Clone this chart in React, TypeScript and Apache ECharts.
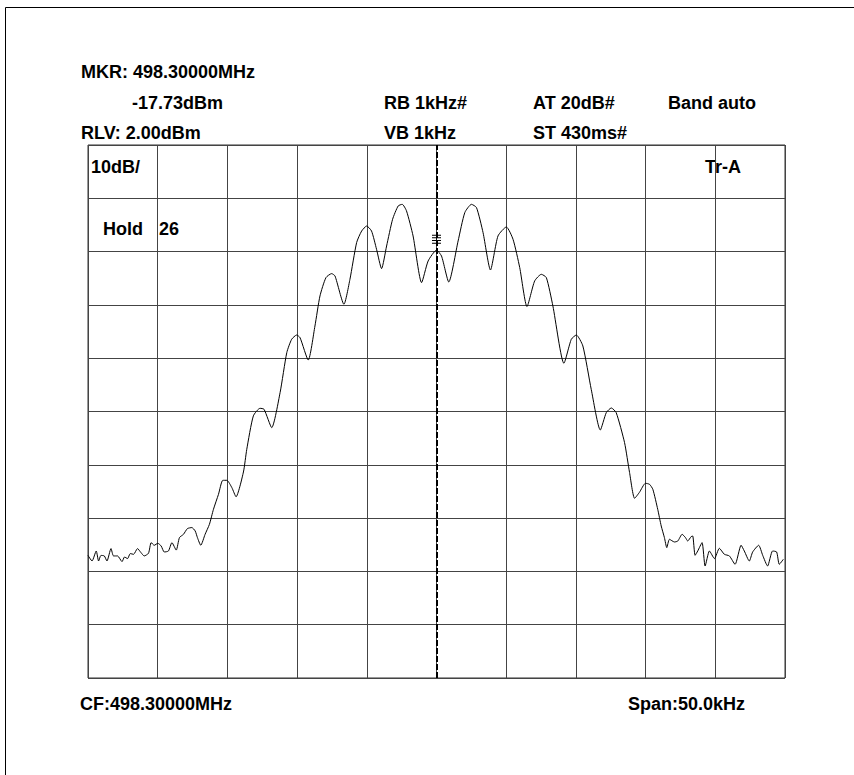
import React, { useEffect, useRef } from "react";
import * as echarts from "echarts";

// Analyzer settings
const CENTER_MHZ = "498.30000";
const SPAN_KHZ = 50;
const RLV_DBM = 2.0;
const DB_PER_DIV = 10;
const MARKER_KHZ = 0;
const MARKER_DBM = -17.73;

// Frequency offset from centre (kHz)
const FREQ_KHZ = [
  -25.0, -24.71, -24.41, -24.24, -24.07, -23.83, -23.64, -23.35, -23.17, -22.88,
  -22.56, -22.38, -22.16, -21.97, -21.73, -21.45, -21.2, -20.97, -20.66, -20.47,
  -20.25, -19.99, -19.75, -19.53, -19.23, -18.98, -18.67, -18.44, -18.15, -17.87,
  -17.55, -17.31, -17.15, -16.91, -16.6, -16.29, -16.0, -15.64, -15.33, -15.04,
  -14.68, -14.38, -13.85, -13.61, -13.14, -12.66, -12.37, -11.82, -11.22, -10.74,
  -10.39, -10.03, -9.79, -9.2, -8.72, -8.36, -7.93, -7.52, -7.28, -6.64,
  -6.21, -5.73, -5.37, -5.01, -4.66, -4.3, -3.94, -3.58, -3.15, -2.75,
  -2.46, -2.15, -1.68, -1.07, -0.6, 0.0, 0.36, 0.88, 1.55, 2.03,
  2.51, 2.87, 3.34, 3.87, 4.41, 5.01, 5.49, 5.97, 6.49, 7.04,
  7.52, 7.88, 8.35, 9.14, 9.67, 10.03, 10.5, 11.1, 11.75, 12.18,
  12.54, 12.89, 13.49, 13.85, 14.21, 14.56, 14.99, 15.28, 15.52, 15.87,
  16.12, 16.35, 16.52, 16.71, 17.07, 17.31, 17.62, 17.86, 18.02, 18.27,
  18.38, 18.55, 18.74, 19.05, 19.27, 19.58, 19.94, 20.29, 20.65, 21.01,
  21.42, 21.85, 22.08, 22.44, 22.68, 23.11, 23.4, 23.75, 24.11, 24.4,
  24.59, 24.88,
];

// Trace level (dBm)
const LEVEL_DBM = [
  -75.0, -76.05, -74.17, -76.05, -75.0, -75.1, -76.05, -73.72, -75.1, -75.1,
  -76.16, -75.3, -75.6, -74.66, -74.79, -73.72, -74.47, -75.1, -74.6, -72.6,
  -73.1, -72.73, -73.24, -74.36, -74.17, -72.6, -74.0, -71.66, -71.04, -69.97,
  -69.78, -70.42, -71.66, -73.1, -71.04, -69.17, -66.35, -63.54, -60.91, -60.91,
  -62.28, -64.0, -59.35, -55.09, -48.84, -47.4, -47.59, -51.02, -44.45, -36.95,
  -34.45, -33.65, -34.14, -38.34, -31.96, -26.33, -22.88, -22.13, -22.58, -27.89,
  -23.2, -16.31, -14.14, -13.2, -14.14, -17.57, -21.19, -16.95, -11.94, -9.44,
  -9.13, -10.38, -15.07, -23.82, -19.76, -17.73, -18.83, -23.7, -16.01, -10.68,
  -9.13, -9.75, -14.44, -21.45, -15.07, -13.38, -15.69, -21.0, -28.32, -23.52,
  -22.26, -22.88, -28.21, -38.96, -34.45, -33.65, -35.71, -43.84, -51.47, -48.21,
  -47.34, -48.21, -53.84, -59.46, -64.29, -63.16, -61.47, -61.66, -62.6, -66.35,
  -69.48, -71.66, -73.54, -71.98, -72.48, -72.3, -71.04, -71.66, -72.3, -71.47,
  -71.36, -74.98, -74.17, -72.6, -76.99, -74.17, -75.6, -73.67, -74.79, -75.1,
  -76.67, -73.1, -74.17, -76.05, -74.36, -73.1, -74.98, -76.99, -74.17, -74.36,
  -76.67, -75.73,
];

const HEADER_ROW1 = ["RB 1kHz#", "AT 20dB#", "Band auto"];
const HEADER_ROW2 = ["VB 1kHz", "ST 430ms#"];
const TRACE_LABEL = "Tr-A";
const HOLD_LABEL = "Hold";
const HOLD_COUNT = "26";

const FONT = { fontSize: 18, fontWeight: "bold", fontFamily: "'Liberation Sans', Arial, sans-serif" };

function txt(text: string, x: number, y: number) {
  return {
    type: "text",
    x,
    y,
    silent: true,
    style: { text, fill: "#000", ...FONT, textAlign: "left", textVerticalAlign: "middle" },
  };
}

export default function App() {
  const ref = useRef<HTMLDivElement>(null);

  useEffect(() => {
    if (!ref.current) return;
    const chart = echarts.init(ref.current, null, { renderer: "svg" });
    const half = SPAN_KHZ / 2;
    const divs = 10;
    const data = FREQ_KHZ.map((f, i) => [f, LEVEL_DBM[i] - RLV_DBM]);
    const markerSymbol =
      "path://M0,0H10V1H0Z M0,2.7H10V3.7H0Z M0,5.4H10V6.4H0Z M0,8.1H10V9.1H0Z M4.6,0H5.4V9.1H4.6Z";

    chart.setOption({
      animation: false,
      backgroundColor: "#fff",
      grid: {
        left: 88,
        top: 145,
        width: 697,
        height: 533,
        show: true,
        borderColor: "#333",
        borderWidth: 1,
        containLabel: false,
      },
      xAxis: {
        type: "value",
        min: -half,
        max: half,
        interval: SPAN_KHZ / divs,
        axisLine: { show: false },
        axisTick: { show: false },
        axisLabel: { show: false },
        splitLine: { show: true, lineStyle: { color: "#444", width: 1 } },
      },
      yAxis: {
        type: "value",
        min: -DB_PER_DIV * divs,
        max: 0,
        interval: DB_PER_DIV,
        axisLine: { show: false },
        axisTick: { show: false },
        axisLabel: { show: false },
        splitLine: { show: true, lineStyle: { color: "#444", width: 1 } },
      },
      series: [
        {
          type: "line",
          data,
          showSymbol: false,
          smooth: 0.2,
          lineStyle: { color: "#000", width: 1 },
          silent: true,
          markLine: {
            silent: true,
            symbol: "none",
            label: { show: false },
            lineStyle: { color: "#000", width: 2, type: [6, 2] },
            data: [{ xAxis: MARKER_KHZ }],
          },
          markPoint: {
            silent: true,
            symbol: markerSymbol,
            symbolSize: [9, 9],
            symbolOffset: [0, -11],
            itemStyle: { color: "#000" },
            label: { show: false },
            data: [{ coord: [MARKER_KHZ, MARKER_DBM - RLV_DBM] }],
          },
        },
      ],
      graphic: [
        {
          type: "rect",
          silent: true,
          shape: { x: 5.5, y: 7.5, width: 1200, height: 1200 },
          style: { fill: "none", stroke: "#000", lineWidth: 1 },
        },
        txt(`MKR: ${CENTER_MHZ}MHz`, 81, 72),
        txt(`${MARKER_DBM.toFixed(2)}dBm`, 132, 103),
        txt(HEADER_ROW1[0], 384, 103),
        txt(HEADER_ROW1[1], 533, 103),
        txt(HEADER_ROW1[2], 668, 103),
        txt(`RLV: ${RLV_DBM.toFixed(2)}dBm`, 81, 133),
        txt(HEADER_ROW2[0], 384, 133),
        txt(HEADER_ROW2[1], 533, 133),
        txt(`${DB_PER_DIV}dB/`, 91, 167),
        txt(TRACE_LABEL, 705, 167),
        txt(HOLD_LABEL, 103, 229),
        txt(HOLD_COUNT, 159, 229),
        txt(`CF:${CENTER_MHZ}MHz`, 80, 704),
        txt(`Span:${SPAN_KHZ.toFixed(1)}kHz`, 628, 704),
      ],
    });
    return () => chart.dispose();
  }, []);

  return (
    <div
      ref={ref}
      style={{ position: "absolute", left: 0, top: 0, width: 854, height: 775, background: "#fff" }}
    />
  );
}
